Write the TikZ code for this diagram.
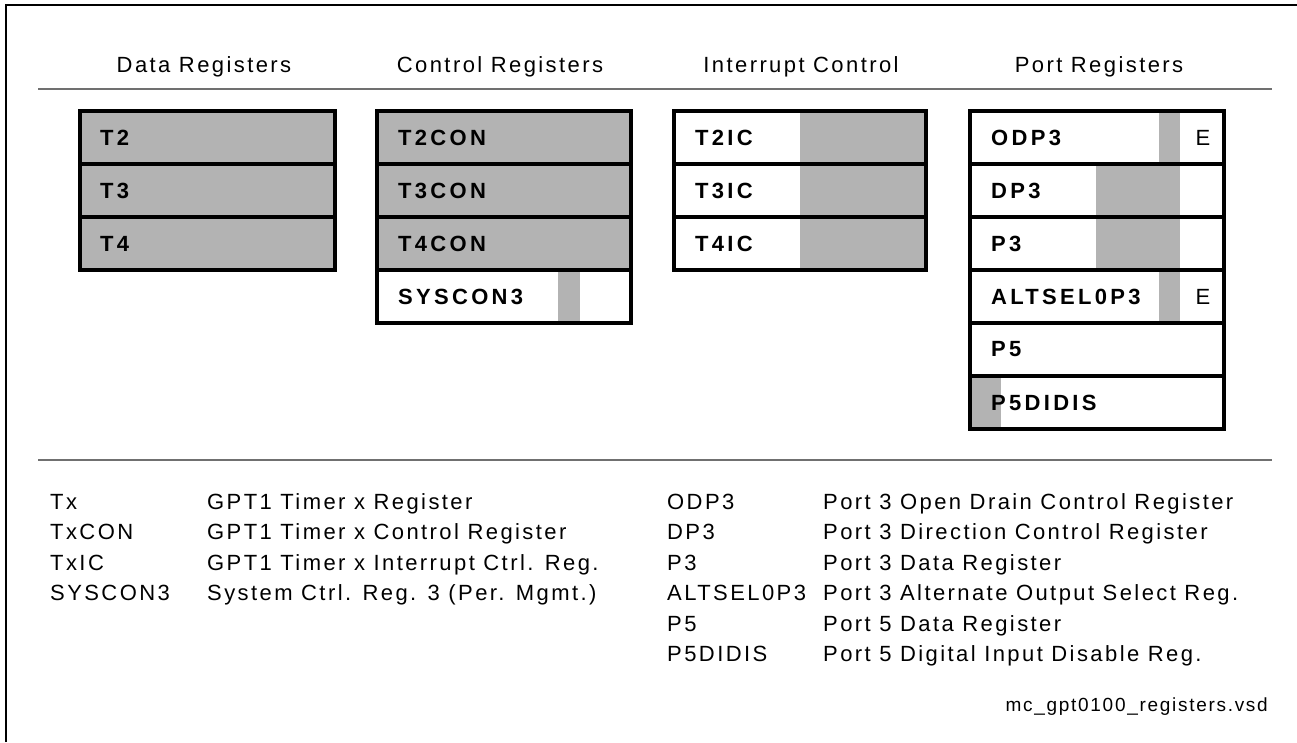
\documentclass[tikz,border=0pt]{standalone}
\usepackage{fontspec}
\setmainfont{Liberation Sans}
\newfontfamily\regfont[LetterSpace=11]{Liberation Sans}
\newfontfamily\boldregfont[LetterSpace=15]{Liberation Sans Bold}
\newfontfamily\footfont[LetterSpace=9]{Liberation Sans}
\definecolor{regfill}{HTML}{B3B3B3}
\definecolor{rulegray}{HTML}{707070}
\begin{document}
\begin{tikzpicture}[x=1pt,y=-1pt,
  title/.style={font=\regfont\fontsize{22}{24}\selectfont, anchor=base, inner sep=0pt},
  lab/.style={font=\boldregfont\fontsize{22}{24}\selectfont, anchor=west, inner sep=0pt},
  elab/.style={font=\regfont\fontsize{22}{24}\selectfont, anchor=center, inner sep=0pt},
  leg/.style={font=\regfont\fontsize{22}{24}\selectfont, anchor=base west, inner sep=0pt},
  foot/.style={font=\footfont\fontsize{19}{20}\selectfont, anchor=base east, inner sep=0pt},
  boxline/.style={line width=4pt, line cap=rect},
  sep/.style={line width=1.5pt, draw=rulegray},
  frameline/.style={line width=2.5pt}]
\useasboundingbox (0,0) rectangle (1297,742);
% frame
\coordinate (fTL) at (6,5);
\coordinate (fTR) at (1297,5);
\coordinate (fBL) at (6,742);
\draw[frameline] (fBL) -- (fTL) -- (fTR);
% header titles
\node[title] (tData) at (204,72) {Data Registers};
\node[title] (tCtrl) at (500,72) {Control Registers};
\node[title] (tInt) at (801,72) {Interrupt Control};
\node[title] (tPort) at (1099,72) {Port Registers};
% separators
\coordinate (s1a) at (38,89); \coordinate (s1b) at (1272,89);
\coordinate (s2a) at (38,460); \coordinate (s2b) at (1272,460);
\draw[sep] (s1a) -- (s1b);
\draw[sep] (s2a) -- (s2b);
% ---------- Data registers
\fill[regfill] (80,111) rectangle (335,270);
\draw[boxline] (80,111) rectangle (335,270);
\draw[boxline] (80,164) -- (335,164);
\draw[boxline] (80,217) -- (335,217);
\node[lab] (T2) at (100,137.5) {T2};
\node[lab] (T3) at (100,190.5) {T3};
\node[lab] (T4) at (100,243.5) {T4};
% ---------- Control registers
\fill[regfill] (377,111) rectangle (631,270);
\fill[regfill] (558,270) rectangle (580,323);
\draw[boxline] (377,111) rectangle (631,323);
\draw[boxline] (377,164) -- (631,164);
\draw[boxline] (377,217) -- (631,217);
\draw[boxline] (377,270) -- (631,270);
\node[lab] (T2CON) at (398,137.5) {T2CON};
\node[lab] (T3CON) at (398,190.5) {T3CON};
\node[lab] (T4CON) at (398,243.5) {T4CON};
\node[lab] (SYSCON3) at (398,296.5) {SYSCON3};
% ---------- Interrupt control
\fill[regfill] (800,111) rectangle (926,270);
\draw[boxline] (674,111) rectangle (926,270);
\draw[boxline] (674,164) -- (926,164);
\draw[boxline] (674,217) -- (926,217);
\node[lab] (T2IC) at (695,137.5) {T2IC};
\node[lab] (T3IC) at (695,190.5) {T3IC};
\node[lab] (T4IC) at (695,243.5) {T4IC};
% ---------- Port registers
\fill[regfill] (1159,111) rectangle (1180,164);
\fill[regfill] (1096,164) rectangle (1180,270);
\fill[regfill] (1159,270) rectangle (1180,323);
\fill[regfill] (970,376) rectangle (1001,429);
\draw[boxline] (970,111) rectangle (1224,429);
\foreach \yy in {164,217,270,323,376} \draw[boxline] (970,\yy) -- (1224,\yy);
\node[lab] (ODP3) at (991,137.5) {ODP3};
\node[lab] (DP3) at (991,190.5) {DP3};
\node[lab] (P3) at (991,243.5) {P3};
\node[lab] (ALTSEL0P3) at (991,296.5) {ALTSEL0P3};
\node[lab] (P5) at (991,349.5) {P5};
\node[lab] (P5DIDIS) at (991,402.5) {P5DIDIS};
\node[elab] (E1) at (1203,137.5) {E};
\node[elab] (E2) at (1203,296.5) {E};
% ---------- Legend left
\node[leg] (lTx) at (50,509) {Tx};
\node[leg] (lTxCON) at (50,539.5) {TxCON};
\node[leg] (lTxIC) at (50,570) {TxIC};
\node[leg] (lSYS) at (50,600.5) {SYSCON3};
\node[leg] (dTx) at (207,509) {GPT1 Timer x Register};
\node[leg] (dTxCON) at (207,539.5) {GPT1 Timer x Control Register};
\node[leg] (dTxIC) at (207,570) {GPT1 Timer x Interrupt Ctrl. Reg.};
\node[leg] (dSYS) at (207,600.5) {System Ctrl. Reg. 3 (Per. Mgmt.)};
% ---------- Legend right
\node[leg] (lODP3) at (667,509) {ODP3};
\node[leg] (lDP3) at (667,539.5) {DP3};
\node[leg] (lP3) at (667,570) {P3};
\node[leg] (lALT) at (667,600.5) {ALTSEL0P3};
\node[leg] (lP5) at (667,631) {P5};
\node[leg] (lP5D) at (667,661.5) {P5DIDIS};
\node[leg] (dODP3) at (823,509) {Port 3 Open Drain Control Register};
\node[leg] (dDP3) at (823,539.5) {Port 3 Direction Control Register};
\node[leg] (dP3) at (823,570) {Port 3 Data Register};
\node[leg] (dALT) at (823,600.5) {Port 3 Alternate Output Select Reg.};
\node[leg] (dP5) at (823,631) {Port 5 Data Register};
\node[leg] (dP5D) at (823,661.5) {Port 5 Digital Input Disable Reg.};
% footer
\node[foot] (file) at (1268,711) {mc\_gpt0100\_registers.vsd};
\end{tikzpicture}
\end{document}
